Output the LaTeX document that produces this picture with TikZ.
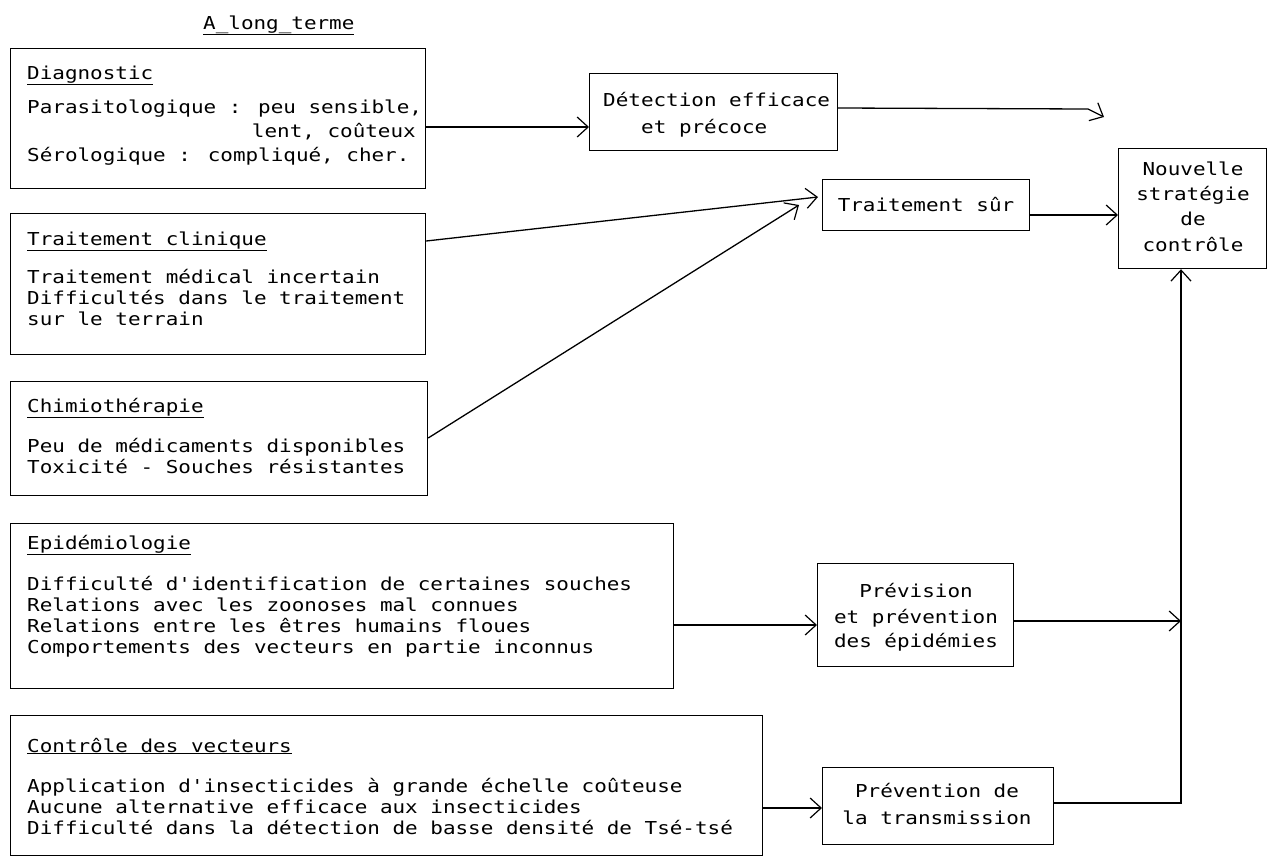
\documentclass[tikz,border=0pt]{standalone}
\usepackage{fontspec}
\usetikzlibrary{arrows.meta,calc}
\newfontfamily\tw[FakeStretch=1.176]{DejaVu Sans Mono}
\begin{document}
\begin{tikzpicture}[x=1pt,y=-1pt,
  box/.style={draw, line width=1.2pt, rectangle, inner sep=0pt, anchor=north west},
  txt/.style={inner sep=0pt, anchor=base west, font=\tw\fontsize{17.8pt}{21pt}\selectfont},
  ctxt/.style={txt, anchor=base},
  arr/.style={line width=1.3pt, -{Straight Barb[length=11pt,width=20pt,line width=1.2pt]}}]
\useasboundingbox (0,0) rectangle (1267,860);
\fill[white] (0,0) rectangle (1267,860);
% title
\node[txt] (title) at (203,29) {\underline{A\_long\_terme}};
% boxes
\node[box, minimum width=415pt, minimum height=140pt] (diag) at (10,48) {};
\node[box, minimum width=415pt, minimum height=141pt] (tclin) at (10,213) {};
\node[box, minimum width=417pt, minimum height=114pt] (chim) at (10,381) {};
\node[box, minimum width=663pt, minimum height=165pt] (epid) at (10,523) {};
\node[box, minimum width=752pt, minimum height=140pt] (ctrl) at (10,715) {};
\node[box, minimum width=248pt, minimum height=77pt] (det) at (589,73) {};
\node[box, minimum width=207pt, minimum height=51pt] (tsur) at (822,179) {};
\node[box, minimum width=148pt, minimum height=120pt] (nouv) at (1118,148) {};
\node[box, minimum width=196pt, minimum height=103pt] (prev) at (817,563) {};
\node[box, minimum width=231pt, minimum height=77pt] (prevt) at (822,767) {};
% box texts
\node[txt] (d0) at (27,79) {\underline{Diagnostic}};
\node[txt] (d1) at (27,113) {Parasitologique : peu sensible,};
\node[txt, anchor=base east] (d2) at (416,137) {lent, coûteux};
\node[txt] (d3) at (27,161) {Sérologique : compliqué, cher.};
\node[txt] (t0) at (27,245) {\underline{Traitement clinique}};
\node[txt] (t1) at (27,283) {Traitement médical incertain};
\node[txt] (t2) at (27,304) {Difficultés dans le traitement};
\node[txt] (t3) at (27,325) {sur le terrain};
\node[txt] (c0) at (27,412) {\underline{Chimiothérapie}};
\node[txt] (c1) at (27,452) {Peu de médicaments disponibles};
\node[txt] (c2) at (27,473) {Toxicité - Souches résistantes};
\node[txt] (e0) at (27,549) {\underline{Epidémiologie}};
\node[txt] (e1) at (27,590) {Difficulté d'identification de certaines souches};
\node[txt] (e2) at (27,611) {Relations avec les zoonoses mal connues};
\node[txt] (e3) at (27,632) {Relations entre les êtres humains floues};
\node[txt] (e4) at (27,653) {Comportements des vecteurs en partie inconnus};
\node[txt] (v0) at (27,752) {\underline{Contrôle des vecteurs}};
\node[txt] (v1) at (27,792) {Application d'insecticides à grande échelle coûteuse};
\node[txt] (v2) at (27,813) {Aucune alternative efficace aux insecticides};
\node[txt] (v3) at (27,834) {Difficulté dans la détection de basse densité de Tsé-tsé};
\node[txt] (r1) at (603,106) {Détection efficace};
\node[txt] (r2) at (641,133) {et précoce};
\node[ctxt] (s1) at (926,211) {Traitement sûr};
\node[ctxt] (n1) at (1193,175) {Nouvelle};
\node[ctxt] (n2) at (1193,200) {stratégie};
\node[ctxt] (n3) at (1193,225) {de};
\node[ctxt] (n4) at (1193,251) {contrôle};
\node[ctxt] (p1) at (916,597) {Prévision};
\node[ctxt] (p2) at (916,623) {et prévention};
\node[ctxt] (p3) at (916,647) {des épidémies};
\node[ctxt] (q1) at (937,797) {Prévention de};
\node[ctxt] (q2) at (937,824) {la transmission};
% connector points
\coordinate (diagout) at (diag.east |- 0,127);
\coordinate (detin) at (det.west |- 0,127);
\coordinate (detout) at (det.east |- 0,108);
\coordinate (detbend) at (1088,109);
\coordinate (nouvcorner) at (1104,117);
\coordinate (tclinout) at (tclin.east |- 0,241);
\coordinate (tsurin) at (818,197);
\coordinate (chimout) at (chim.east |- 0,438);
\coordinate (tsurin2) at (799,205);
\coordinate (tsurout) at (tsur.east |- 0,215);
\coordinate (nouvin) at (nouv.west |- 0,215);
\coordinate (epidout) at (epid.east |- 0,625);
\coordinate (previn) at (prev.west |- 0,625);
\coordinate (prevout) at (prev.east |- 0,621);
\coordinate (vline) at (1181,621);
\coordinate (ctrlout) at (ctrl.east |- 0,808);
\coordinate (prevtin) at (prevt.west |- 0,808);
\coordinate (prevtout) at (prevt.east |- 0,803);
\coordinate (corner) at (1181,803);
\coordinate (nouvbot) at (nouv.south -| corner);
% connectors
\draw[arr] (diagout) -- (detin);
\draw[arr] (detout) -- (detbend) -- (nouvcorner);
\draw[arr] (tclinout) -- (tsurin);
\draw[arr] (chimout) -- (tsurin2);
\draw[arr] (tsurout) -- (nouvin);
\draw[arr] (epidout) -- (previn);
\draw[arr] (prevout) -- (vline);
\draw[arr] (ctrlout) -- (prevtin);
\draw[arr] (prevtout) -- (corner) -- (nouvbot);
\end{tikzpicture}
\end{document}
